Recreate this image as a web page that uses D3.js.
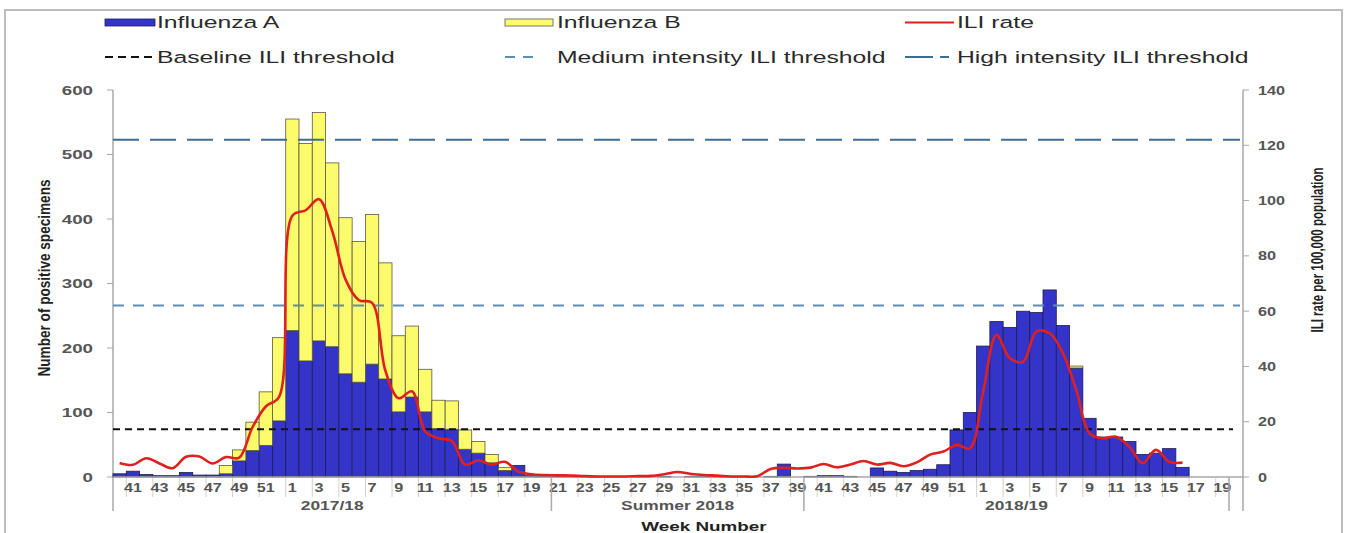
<!doctype html>
<html lang="en">
<head>
  <meta charset="utf-8">
  <title>Influenza positive specimens and ILI rate</title>
  <style>
   body {
       margin: 0;
       background-color: #fff;
   }
   svg {
       display: block;
       font-family: "Liberation Sans", Arial, Helvetica, sans-serif;
   }
  </style>
</head>
<body>
  <svg id="chart" width="1346" height="533" xmlns="http://www.w3.org/2000/svg"></svg>
  <script src="https://d3js.org/d3.v7.min.js"></script>
  <script>

   // week numbers, 2017 wk40 .. 2019 wk19
   var weekNumbers = [40, 41, 42, 43, 44, 45, 46, 47, 48, 49, 50, 51, 52,
                      1, 2, 3, 4, 5, 6, 7, 8, 9, 10, 11, 12, 13, 14, 15, 16, 17, 18, 19, 20,
                      21, 22, 23, 24, 25, 26, 27, 28, 29, 30, 31, 32, 33, 34, 35, 36, 37, 38, 39,
                      40, 41, 42, 43, 44, 45, 46, 47, 48, 49, 50, 51, 52,
                      1, 2, 3, 4, 5, 6, 7, 8, 9, 10, 11, 12, 13, 14, 15, 16, 17, 18, 19];

   var seasonLabels = ["2017/18", "Summer 2018", "2018/19"];
   var seasonWeeks = [33, 19, 32];

   var influenzaA = [5, 9, 4, 2, 2, 7, 3, 3, 5, 25, 41, 49, 87,
                     227, 180, 211, 202, 160, 147, 175, 152, 101, 124, 101, 75, 74, 43, 37, 22, 10, 18, 2, 1,
                     1, 1, 0, 0, 0, 0, 0, 0, 1, 0, 1, 1, 2, 1, 0, 0, 1, 20, 0,
                     1, 2, 2, 1, 0, 14, 9, 7, 10, 12, 19, 73, 100,
                     203, 241, 232, 257, 255, 290, 235, 169, 91, 62, 62, 55, 35, 37, 44, 15, 0, 0, 0];

   var influenzaB = [0, 0, 0, 0, 0, 0, 0, 0, 13, 17, 44, 83, 129,
                     328, 337, 354, 285, 242, 218, 232, 180, 118, 110, 66, 44, 44, 30, 18, 13, 5, 0, 0, 0,
                     0, 0, 0, 0, 0, 0, 0, 0, 0, 0, 0, 0, 0, 0, 0, 0, 0, 0, 0,
                     0, 0, 0, 0, 0, 0, 0, 0, 0, 0, 0, 0, 0,
                     0, 0, 0, 0, 0, 0, 0, 3, 0, 0, 0, 0, 0, 0, 0, 0, 0, 0, 0];

   var iliRate = [5.1, 4.4, 6.8, 4.9, 3.2, 7.3, 7.4, 4.9, 7.2, 7.0, 18, 25.5, 29,
                  94.5, 96.5, 100.5, 89, 71.5, 64, 63, 38.5, 28.5, 31, 16.5, 14, 13, 4.5, 6, 4.5, 5.5, 2, 1, 0.7,
                  0.6, 0.5, 0.3, 0.2, 0.2, 0.2, 0.3, 0.4, 1.0, 1.8, 1.1, 0.7, 0.5, 0.2, 0.2, 0.3, 2.9, 3.3, 3.1,
                  3.4, 4.7, 3.5, 4.5, 5.8, 4.5, 5.1, 3.9, 5.3, 8.1, 9.2, 11.6, 10.4,
                  31, 51.4, 43, 41.7, 52.6, 52, 44.8, 31.5, 15.8, 14, 14.6, 11, 5, 9.8, 5.5, 5.2, null, null, null];

   var thresholdNames = ["Baseline ILI threshold", "Medium intensity ILI threshold", "High intensity ILI threshold"];
   var thresholdValues = [17.3, 62, 122];

   var leftTicks = [0, 100, 200, 300, 400, 500, 600];
   var rightTicks = [0, 20, 40, 60, 80, 100, 120, 140];

   var colA = "#3434c8", colB = "#fbfb6c", colILI = "#e0201e";
   var thrColors = ["#111", "#5e8db4", "#3d6c94"];
   var thrDash = ["7,5", "11,9", "26,11"];
   var SX = 1.5; // the picture is stretched sideways

   var svg = d3.select("#chart");

   // frame
   svg.append("rect")
      .attr("x", 5).attr("y", 10).attr("width", 1337).attr("height", 530)
      .attr("fill", "none").attr("stroke", "#bdbdbd").attr("stroke-width", 2);

   var x = d3.scaleBand()
             .domain(d3.range(weekNumbers.length))
             .range([113, 1229])
             .padding(0);
   var yLeft = d3.scaleLinear().domain([0, 600]).range([477, 90]);
   var yRight = d3.scaleLinear().domain([0, 140]).range([477, 90]);

   function stretched(g, txt, px, py, size, anchor, weight, color, sx) {
       return g.append("text")
               .attr("transform", "translate(" + px + "," + py + ") scale(" + (sx || SX) + ",1)")
               .attr("text-anchor", anchor)
               .attr("font-size", size)
               .attr("font-weight", weight)
               .attr("fill", color)
               .text(txt);
   }

   // axes lines
   var axisCol = "#a9a9a9";
   svg.append("line").attr("x1", 113).attr("x2", 113).attr("y1", 90).attr("y2", 511)
      .attr("stroke", axisCol).attr("stroke-width", 1.5);
   svg.append("line").attr("x1", 1243).attr("x2", 1243).attr("y1", 90).attr("y2", 511)
      .attr("stroke", axisCol).attr("stroke-width", 1.5);

   // left ticks
   var gl = svg.append("g");
   leftTicks.forEach(function(v) {
       gl.append("line").attr("x1", 107).attr("x2", 113)
         .attr("y1", yLeft(v)).attr("y2", yLeft(v)).attr("stroke", axisCol);
       stretched(gl, v, 93, yLeft(v) + 4.5, 12.5, "end", "bold", "#555", 1.5);
   });
   var gr = svg.append("g");
   rightTicks.forEach(function(v) {
       gr.append("line").attr("x1", 1243).attr("x2", 1249)
         .attr("y1", yRight(v)).attr("y2", yRight(v)).attr("stroke", axisCol);
       stretched(gr, v, 1258, yRight(v) + 4.5, 12.5, "start", "bold", "#555", 1.3);
   });

   // stacked bars
   var rows = weekNumbers.map(function(w, i) {
       return {i: i, a: influenzaA[i], b: influenzaB[i]};
   });
   var stack = d3.stack().keys(["a", "b"])(rows);
   var fills = {a: colA, b: colB};
   var strokes = {a: "#1c1c5a", b: "#5a5a40"};

   svg.append("g").selectAll("g")
      .data(stack).enter()
      .append("g")
      .attr("fill", function(s) { return fills[s.key]; })
      .attr("stroke", function(s) { return strokes[s.key]; })
      .attr("stroke-width", 0.8)
      .selectAll("rect")
      .data(function(s) { return s.filter(function(d) { return d[1] > d[0]; }); })
      .enter()
      .append("rect")
      .attr("x", function(d) { return x(d.data.i); })
      .attr("width", x.bandwidth())
      .attr("y", function(d) { return yLeft(d[1]); })
      .attr("height", function(d) { return yLeft(d[0]) - yLeft(d[1]); });

   // x axis line
   svg.append("line").attr("x1", 113).attr("x2", 1243).attr("y1", 477).attr("y2", 477)
      .attr("stroke", axisCol).attr("stroke-width", 1.5);

   // threshold lines
   thresholdValues.forEach(function(v, k) {
       svg.append("line")
          .attr("x1", 113).attr("x2", k == 0 ? 1233 : 1240)
          .attr("y1", yRight(v)).attr("y2", yRight(v))
          .attr("stroke", thrColors[k])
          .attr("stroke-width", 2)
          .attr("stroke-dasharray", thrDash[k]);
   });

   // ILI line
   var line = d3.line()
                .defined(function(d) { return d != null; })
                .x(function(d, i) { return x(i) + x.bandwidth() / 2; })
                .y(function(d) { return yRight(d); })
                .curve(d3.curveCatmullRom.alpha(0.5));
   svg.append("path")
      .attr("d", line(iliRate))
      .attr("fill", "none")
      .attr("stroke", colILI)
      .attr("stroke-width", 2.6);

   // week labels and ticks
   var gx = svg.append("g");
   weekNumbers.forEach(function(w, i) {
       if (i % 2 == 1) {
           gx.append("line")
             .attr("x1", x(i)).attr("x2", x(i)).attr("y1", 478).attr("y2", 497)
             .attr("stroke", "#d0d0d0");
           stretched(gx, w, x(i) + x.bandwidth() / 2, 492, 12, "middle", "bold", "#555", 1.35);
       }
   });

   // season groups
   var start = 0;
   seasonLabels.forEach(function(s, k) {
       var x0 = x(start), x1 = start + seasonWeeks[k] < weekNumbers.length ? x(start + seasonWeeks[k]) : x.range()[1];
       if (k > 0) {
           gx.append("line").attr("x1", x0).attr("x2", x0).attr("y1", 477).attr("y2", 511)
             .attr("stroke", axisCol).attr("stroke-width", 1.5);
       }
       stretched(gx, s, (x0 + x1) / 2, 510, 12, "middle", "bold", "#555", 1.45);
       start += seasonWeeks[k];
   });
   gx.append("line").attr("x1", x.range()[1]).attr("x2", x.range()[1]).attr("y1", 477).attr("y2", 511)
     .attr("stroke", axisCol).attr("stroke-width", 1.5);

   stretched(svg, "Week Number", 704, 531, 13, "middle", "bold", "#222", 1.45);

   // axis titles
   svg.append("text")
      .attr("transform", "translate(50,278) rotate(-90)")
      .attr("text-anchor", "middle")
      .attr("font-family", "'Liberation Sans Narrow', 'Arial Narrow', sans-serif")
      .attr("font-size", 17)
      .attr("font-weight", "bold")
      .attr("fill", "#222")
      .attr("textLength", 197)
      .attr("lengthAdjust", "spacingAndGlyphs")
      .text("Number of positive specimens");
   svg.append("text")
      .attr("transform", "translate(1323,250) rotate(-90)")
      .attr("text-anchor", "middle")
      .attr("font-family", "'Liberation Sans Narrow', 'Arial Narrow', sans-serif")
      .attr("font-size", 16)
      .attr("font-weight", "bold")
      .attr("fill", "#222")
      .attr("textLength", 165)
      .attr("lengthAdjust", "spacingAndGlyphs")
      .text("ILI rate per 100,000 population");

   // legend
   var lg = svg.append("g");
   lg.append("rect").attr("x", 105).attr("y", 19).attr("width", 50).attr("height", 7)
     .attr("fill", colA).attr("stroke", "#1c1c5a").attr("stroke-width", 0.8);
   stretched(lg, "Influenza A", 157, 28, 16.5, "start", "normal", "#2a2a2a");
   lg.append("rect").attr("x", 505).attr("y", 19).attr("width", 48).attr("height", 7)
     .attr("fill", colB).attr("stroke", "#777").attr("stroke-width", 1);
   stretched(lg, "Influenza B", 557, 28, 16.5, "start", "normal", "#2a2a2a");
   lg.append("line").attr("x1", 905).attr("x2", 954).attr("y1", 22.5).attr("y2", 22.5)
     .attr("stroke", colILI).attr("stroke-width", 2);
   stretched(lg, "ILI rate", 957, 28, 16.5, "start", "normal", "#2a2a2a");

   var legX = [105, 505, 905], legW = [50, 30, 50], legT = [157, 557, 957];
   var legDash = ["8,5", "10,8", "28,7,9,20"];
   thresholdNames.forEach(function(n, k) {
       lg.append("line")
         .attr("x1", legX[k]).attr("x2", legX[k] + legW[k])
         .attr("y1", 57).attr("y2", 57)
         .attr("stroke", thrColors[k]).attr("stroke-width", 2)
         .attr("stroke-dasharray", legDash[k]);
       stretched(lg, n, legT[k], 63, 16.5, "start", "normal", "#2a2a2a");
   });

  </script>
</body>
</html>
